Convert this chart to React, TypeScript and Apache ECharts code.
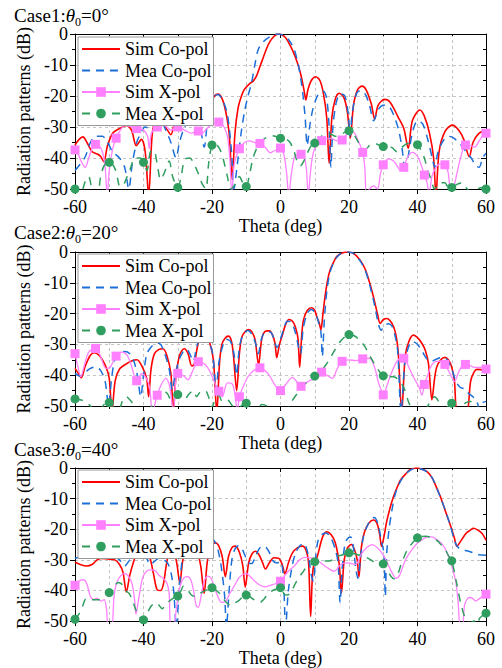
import React, { useEffect, useRef } from "react";
import * as echarts from "echarts";

type P = [number, number];

const seriesNames = ["Sim Co-pol", "Mea Co-pol", "Sim X-pol", "Mea X-pol"];
const thetaLabels = [-60, -40, -20, 0, 20, 40, 60];
const caseLabels = ["Case1:", "Case2:", "Case3:"];
const caseAngles = ["0°", "20°", "40°"];
const simXMarkerStep = [6, 6, 60];
const meaXMarkerStep = [10, 10, 10];

// ---------- Case 1 ----------
const case1SimCo: P[] = [[-60,-35.8],[-58.8,-34],[-57.7,-33.2],[-56.5,-35],[-55,-38],[-53.5,-38.7],[-52.5,-39.5],[-51.6,-41.2],[-50.5,-36],[-49,-32],[-47,-30.5],[-45,-29.5],[-43.5,-31],[-42.1,-36],[-40.6,-34],[-39.5,-38],[-38.5,-52],[-37.5,-33],[-36.6,-28.3],[-35,-28.8],[-34,-29.5],[-33,-31],[-32,-32.5],[-31,-29],[-29.5,-25.5],[-27.5,-24.5],[-25.5,-25],[-23.5,-26],[-21.6,-27.2],[-20.5,-23],[-19.3,-20],[-18.2,-19.4],[-17,-21],[-16,-25],[-15,-32],[-14.1,-47],[-13.3,-32],[-12.4,-24],[-11.4,-20],[-10.5,-17.8],[-9,-16],[-8,-15.2],[-7,-13.5],[-6,-10.5],[-5,-7.5],[-4,-4.5],[-3,-2.3],[-2,-0.9],[-1,-0.1],[-0.3,0],[1,-0.7],[2,-2],[3,-4.1],[4,-6.5],[5,-9.5],[5.8,-12.5],[6.5,-16],[7,-19],[7.4,-21.3],[8,-18],[9,-15],[10.3,-13.8],[11.5,-15],[12.5,-19],[13.5,-27],[14.2,-41.7],[15,-27],[16,-21],[17.1,-19.1],[18.5,-20.5],[19.5,-25],[20.4,-33.6],[21.3,-23],[22.5,-18],[23.8,-16.8],[25,-18],[26.5,-22.5],[27.5,-27.5],[28.5,-23],[30.4,-21.1],[32,-22],[34.3,-26.7],[36,-30.5],[37.3,-36.9],[38.5,-28],[40.7,-24.5],[42,-26.5],[43.5,-32],[44.7,-40],[45.4,-52],[46.3,-38],[48,-31.5],[50.2,-29.4],[52,-31],[53.5,-34],[55.1,-39.6],[56.2,-35],[57.8,-32.2],[60,-31]];
const case1MeaCo: P[] = [[-60,-44],[-58.5,-42],[-57,-39.6],[-55.5,-35],[-54,-33],[-52,-33],[-50.5,-35],[-49,-38],[-47,-40],[-45.5,-43],[-44.3,-50],[-43.3,-42],[-42,-35],[-41,-32.5],[-39.5,-30],[-38,-30.5],[-36.5,-30],[-35,-28],[-33.5,-31],[-32,-35],[-30.5,-40],[-29.5,-35],[-28,-30],[-26.5,-28],[-25,-27],[-23.5,-30],[-22.3,-36.5],[-21,-25],[-19.5,-20.5],[-18.3,-19.5],[-17,-21],[-15.5,-26],[-14.3,-38],[-13.6,-50],[-12.6,-42],[-11.5,-32],[-10.5,-25],[-9.5,-20],[-8.5,-16],[-7.5,-10],[-6.5,-5],[-5,-2.5],[-3,-0.8],[-1,0],[1,-0.5],[2.5,-2],[4,-5],[5.2,-10],[6,-15],[6.6,-20],[7.2,-27],[7.8,-36],[8.5,-30],[9.5,-24],[11,-19.5],[12.5,-18.5],[13.5,-21],[14.2,-30],[14.7,-43],[15.3,-30],[16.3,-22],[17.5,-19.3],[18.8,-20],[19.8,-26],[20.3,-33],[21,-25],[22.3,-19],[23.5,-18.2],[24.8,-19.5],[26,-23],[27.2,-28],[28.5,-24.5],[30,-23],[31.5,-23.2],[33,-26],[34.5,-31],[35.5,-37],[36.5,-45],[37.5,-38],[38.7,-31],[40,-28],[41.5,-29],[43,-34],[44.3,-40],[45,-43],[46,-38],[47.5,-34.5],[49,-33],[50.5,-33.5],[52,-35],[53.2,-36.5],[54.5,-38.5],[55.7,-40],[57,-42.5],[58,-43],[59,-40],[60,-38.5]];
const case1SimX: P[] = [[-60,-37.4],[-59,-39],[-58,-41.5],[-57,-43],[-56,-40],[-55,-37],[-54,-35.6],[-53,-36],[-52,-38],[-51.2,-43],[-50.6,-52],[-50,-44],[-49,-37],[-48,-33.6],[-47,-31.5],[-45.5,-29.5],[-44,-29.8],[-42,-30.5],[-40,-31],[-38.8,-33],[-38.3,-37],[-37.7,-32],[-36,-30],[-34,-29.5],[-32,-31],[-30,-30],[-28,-31],[-26,-32],[-24,-31.3],[-23,-32],[-21.5,-30.5],[-20,-29],[-18,-28.4],[-16.5,-30],[-15.5,-33],[-14.8,-40],[-14.2,-52],[-13.5,-42],[-12,-37],[-10.5,-35],[-9,-34.5],[-7.5,-35],[-6,-35.3],[-4.5,-36.5],[-3,-38.3],[-1.5,-37.5],[0,-36.8],[1,-39],[1.8,-45],[2.4,-52],[3.2,-45],[4.4,-39],[6,-38.8],[7,-40],[7.6,-44],[8.1,-52],[8.8,-44],[9.8,-37.5],[12,-34.4],[14.8,-33.7],[16.5,-34.5],[18,-34.2],[19.6,-32],[21.1,-31.5],[22.6,-34.2],[24,-38.2],[24.6,-43],[25.1,-52],[26,-50],[27.2,-49],[28.3,-50],[29.2,-45],[30,-42.2],[31.5,-40.3],[33,-41],[34,-42.5],[35,-44],[36,-43],[37,-40],[38.5,-38.2],[40,-39.5],[41,-42],[42,-45.5],[42.8,-48],[43.4,-52],[44.2,-46],[45.4,-43],[46.5,-42],[48,-42.2],[49,-45],[49.7,-52],[50.5,-50],[51.5,-45],[52.8,-39],[54,-35.8],[55.5,-36],[56.7,-36.5],[58,-34.5],[59,-32.8],[60,-32]];
const case1MeaX: P[] = [[-60,-50],[-58.5,-52],[-57,-47.5],[-56,-46],[-55,-50],[-53.5,-52],[-52.5,-46],[-51.5,-42.5],[-50,-41.4],[-48.5,-43],[-47.5,-47],[-46.5,-52],[-45.5,-48],[-44,-44],[-42.5,-40],[-41,-40],[-40,-41.4],[-39,-44],[-38,-38],[-37,-37.5],[-36,-42],[-35,-47],[-34,-45],[-32.5,-41],[-31.5,-46],[-30,-49.5],[-29,-46],[-28,-40.5],[-26.5,-40],[-25,-42.5],[-24,-45],[-23,-48],[-21.8,-50],[-21,-42],[-20,-35.8],[-19,-35.5],[-17.8,-37],[-16.8,-40],[-15.5,-46],[-14.5,-50],[-13,-48],[-12,-46],[-11,-48],[-10,-49.2],[-9,-45],[-8,-40],[-7,-37],[-5.5,-34.5],[-4,-33.3],[-2.5,-32.8],[-1,-33.2],[0,-33.6],[1.5,-33.8],[2.8,-35],[4,-38],[5,-41.5],[5.8,-42.5],[6.8,-41],[8,-38],[9,-36],[10,-35.2],[11.5,-33.5],[13,-32.3],[14.5,-32.3],[16,-33],[17.5,-32.6],[19,-31.5],[20,-31.2],[21.2,-32],[22.5,-34.5],[23.8,-36.8],[25,-37],[26.5,-35.5],[28,-35.5],[29,-36],[30,-36.3],[31.2,-36.5],[32.5,-36.6],[34,-38],[35.5,-36.5],[37,-35.3],[38.5,-35.2],[40,-35.7],[41,-37.5],[42,-40],[43,-44],[44,-47],[45,-50],[46.5,-48],[48,-48],[49,-49.5],[50,-49.5],[51.5,-48.5],[53,-48],[54.5,-50],[56,-51],[57.5,-50],[59,-49.5],[60,-50]];

// ---------- Case 2 ----------
const case2SimCo: P[] = [[-60,-37.8],[-59,-39.5],[-58.2,-40.8],[-57,-37],[-55.5,-33.5],[-54.3,-32.7],[-53,-33.5],[-52,-35],[-50.9,-37.4],[-50,-41],[-49.2,-52],[-48.3,-42],[-47,-38],[-45,-36.3],[-43.3,-35.3],[-41.9,-35],[-40.5,-37],[-39.1,-41],[-38.5,-47],[-37.8,-38],[-36.8,-33],[-35.5,-31.6],[-34.4,-31.4],[-33.2,-33.5],[-32,-39.5],[-31.3,-52],[-30.5,-40],[-29.6,-34],[-28.8,-32],[-28.1,-31.4],[-27,-33],[-25.9,-37],[-25.2,-36.5],[-24.3,-31],[-23.4,-27.6],[-22,-26.8],[-20.8,-29],[-19.6,-35],[-18.6,-52],[-17.8,-36],[-17.1,-30],[-16.2,-28],[-15.2,-27.3],[-14.3,-29],[-13.7,-34],[-12.8,-45],[-12,-33],[-11.3,-27.7],[-10.3,-25.8],[-9.3,-25.2],[-8.3,-26],[-7.4,-28.6],[-6.4,-36.7],[-5.6,-29],[-5,-26.5],[-4,-25.6],[-3.2,-25.6],[-2.3,-27],[-1.6,-29.7],[-1.1,-34.3],[-0.3,-30],[0.4,-27.5],[1.5,-23.5],[2.5,-21.9],[3.5,-22.5],[4.3,-24.2],[5.1,-28],[5.6,-37.4],[6.2,-27],[6.7,-22.1],[7.8,-19],[9.1,-18.1],[10,-19],[10.6,-21],[11.3,-23],[11.8,-25.3],[12.4,-20],[13,-14.5],[13.7,-9.5],[14.5,-5.8],[15.5,-3.3],[16.4,-1.5],[18,-0.3],[19.8,0],[21.5,-0.6],[23.2,-2.6],[24.7,-5.5],[26.1,-10.2],[26.9,-13.5],[27.6,-16.7],[28.4,-20.5],[29.1,-23.2],[30,-22],[31,-21.6],[32,-22.3],[33,-24.2],[33.8,-27.5],[34.4,-33],[35.4,-52],[36.4,-34],[37.5,-29],[38.8,-27],[40,-27.8],[41.3,-29.7],[42.3,-32],[43.2,-36.2],[44.2,-48],[45,-41],[45.6,-37.4],[46.8,-35],[48,-34.2],[49,-35],[50,-37.4],[50.8,-42],[51.4,-52],[53,-56],[54.6,-52],[55.5,-42],[56.5,-39],[57.4,-38.1],[58.5,-38.2],[60,-38.7]];
const case2MeaCo: P[] = [[-60,-39.4],[-58.5,-40.3],[-57,-39],[-55.5,-37.8],[-54,-37.3],[-52.5,-38.5],[-51.2,-42],[-50.2,-50],[-49.4,-42],[-48.4,-35],[-47,-32.8],[-45.5,-32.3],[-44,-33],[-42.8,-35.5],[-41.8,-40],[-40.8,-47],[-40,-40],[-39,-33],[-37.5,-30.5],[-36,-29.5],[-35,-30],[-33.8,-33],[-32.5,-38],[-31.6,-45],[-30.8,-40],[-29.6,-35],[-28.5,-32.5],[-27.5,-31.5],[-26.5,-33],[-25.5,-35.5],[-24.5,-31],[-23.3,-27.3],[-22,-27],[-20.8,-29.5],[-19.8,-33],[-18.8,-45],[-18,-36],[-17,-31],[-15.8,-28.3],[-14.6,-29],[-13.6,-33],[-12.8,-40],[-12,-31],[-11,-27],[-9.5,-25.5],[-8.2,-27],[-7.2,-30],[-6.5,-33],[-5.5,-28],[-4.5,-26],[-3,-26],[-2,-28],[-1,-31],[-0.2,-29],[0.8,-25.5],[2,-22.5],[3.2,-22.8],[4.3,-26],[5.3,-31],[5.9,-33],[6.6,-25],[7.8,-20],[9,-18.7],[10.2,-19.8],[11,-22.5],[11.8,-26],[12.2,-34],[12.8,-22],[13.6,-12],[14.5,-6.5],[15.5,-3.5],[16.5,-1.6],[18,-0.3],[19.8,0],[21.5,-0.6],[23.2,-2.8],[24.7,-5.8],[26,-10.5],[27,-15],[27.8,-19],[28.6,-23.5],[29.4,-25.4],[30.3,-23.8],[31.5,-23.3],[32.5,-24],[33.3,-26.5],[34.2,-32],[35.2,-52],[36.3,-36],[37.4,-30.8],[38.5,-29],[40,-30],[41.5,-32.5],[42.6,-34.5],[44,-35.5],[45.5,-34.8],[47,-34.3],[48.5,-34.8],[50,-38],[51.2,-42],[52.5,-44],[53.8,-44.5],[55,-46],[56.2,-47],[57.3,-48.5],[58.2,-51],[59,-49],[60,-48.5]];
const case2SimX: P[] = [[-60,-33],[-59.2,-37],[-58.3,-40.5],[-57.3,-37],[-56,-32.5],[-54,-31.3],[-52.5,-34],[-51,-37.8],[-49.8,-37.5],[-48,-33.8],[-46.3,-32.5],[-44.8,-33.5],[-43.5,-37],[-42,-41.8],[-40.5,-39.5],[-39.2,-41],[-38.2,-44],[-37.4,-52],[-36,-46.5],[-34.8,-43],[-33.5,-41],[-32.5,-43],[-31.8,-48],[-31.3,-52],[-30.5,-41],[-30,-39.4],[-28.5,-40],[-27,-41.5],[-25.8,-39],[-24,-35.6],[-22,-36.5],[-20.5,-39],[-19,-43],[-18,-45.2],[-17,-47],[-15.5,-42.5],[-14,-43],[-13.2,-47],[-12.6,-52],[-12,-47],[-11,-44],[-9.5,-40.5],[-7.8,-38.5],[-6,-37.6],[-4.5,-38.5],[-3,-40.5],[-1.5,-43.5],[0,-45],[1.5,-43],[3.5,-40.7],[5,-42.5],[6,-43.6],[7.5,-42.5],[9,-41.5],[10.3,-41.3],[12,-39],[13.5,-40],[15.2,-41],[16.5,-38],[18,-35.5],[20,-35],[22,-35.3],[24,-34.7],[26,-34.5],[27.5,-37.5],[28.5,-42],[29.3,-44.5],[30,-46.4],[31.2,-43],[32.5,-39],[34,-35.5],[35.3,-34.5],[36,-34.5],[37.7,-38],[39,-41],[40.5,-44],[41.3,-46.5],[42,-43],[43,-40],[44,-37],[45.5,-35.5],[46.8,-35.5],[48,-36.5],[49.5,-39.5],[50.8,-42],[52,-39],[53,-37],[54,-36.5],[55.5,-37],[57,-37.5],[58.5,-37.5],[60,-38]];
const case2MeaX: P[] = [[-60,-47.7],[-58.5,-48],[-57,-48.5],[-55.5,-50],[-54,-52],[-52.5,-51],[-51,-49],[-50,-48.9],[-49,-50],[-47.5,-52],[-46,-48],[-45,-47],[-44,-48],[-42.5,-50],[-41,-52],[-40,-51],[-39,-52],[-37.5,-50],[-36,-46.5],[-34.5,-45],[-33,-46],[-32,-48],[-31,-47.5],[-30,-46.3],[-29,-47],[-28,-48],[-27,-46.5],[-25.5,-45],[-24.5,-47],[-23.5,-45.5],[-22,-45],[-21,-47],[-20,-50.5],[-19,-47.5],[-18,-46.5],[-17,-48.5],[-15.5,-48],[-14,-50],[-12.5,-51],[-11,-49.5],[-10,-49.1],[-8.5,-50.5],[-7,-52],[-5.5,-49.5],[-4,-50],[-2.5,-52],[-1,-51],[0,-51],[1.5,-52],[3,-49],[4.2,-47],[5.5,-45],[7,-43],[8.5,-41.5],[10,-40.3],[11.5,-39],[13,-37],[14.5,-34.5],[16,-31.5],[17.5,-29],[19,-27.3],[20,-26.8],[21.5,-27.2],[23,-28.5],[24.5,-30.5],[26,-33.5],[27.5,-36.5],[29,-39],[30,-40.2],[31.5,-40.5],[33,-40.5],[34.5,-41.5],[36,-44],[37.5,-49],[39,-52],[40,-53],[42,-52],[43.5,-49],[45,-47],[46.5,-49],[48,-51],[49,-50],[50,-49.1],[51,-50.5],[52.5,-51],[54,-49],[55.5,-48.5],[57,-50],[58.5,-51.5],[60,-51]];

// ---------- Case 3 ----------
const case3SimCo: P[] = [[-60,-30.8],[-58.5,-31.5],[-56.7,-32],[-55,-31.5],[-53.5,-30],[-52.3,-29.5],[-50.5,-29.7],[-48.4,-30],[-47,-31.5],[-46,-34],[-45,-40.5],[-44,-35],[-43,-31],[-42,-28],[-40.5,-26.5],[-39.5,-26.5],[-38.2,-29],[-37,-35],[-36,-39.8],[-35,-40],[-34.2,-38],[-33.3,-31.5],[-32.3,-27],[-31.3,-27],[-30.3,-31],[-29.4,-37.5],[-28.5,-30],[-27.2,-25.5],[-25.8,-24.8],[-24.5,-26.5],[-23.3,-32],[-22.3,-41],[-21.3,-30],[-20,-25.5],[-19,-24.4],[-18,-25.5],[-17,-29],[-16.1,-35.5],[-15.2,-29],[-14.2,-26],[-13.2,-25.5],[-12,-27.5],[-11,-32],[-10.3,-38.9],[-9.3,-31],[-8.3,-28],[-7.3,-27.2],[-6.2,-28.5],[-5.2,-31],[-4.4,-33],[-3.3,-31],[-1.9,-29.3],[-0.5,-29.5],[0.5,-31.5],[1.3,-34.6],[2.3,-31],[3.5,-27.7],[5,-26],[6.4,-25.5],[7.5,-27],[8.2,-31],[8.8,-48.5],[9.5,-33],[10.8,-28.7],[12.3,-22.5],[13.5,-20.8],[14.8,-21.8],[16,-24.4],[17.1,-31],[17.8,-40.8],[18.6,-30],[19.6,-26],[20.7,-25],[21.7,-27],[22.4,-30],[22.9,-35.5],[23.6,-26],[24.5,-21],[25.8,-18],[27.2,-17],[28.3,-18.5],[29,-22],[29.5,-25.6],[30.2,-22.5],[31,-17.5],[32,-13],[33,-9.3],[34,-6.5],[35,-4],[36.5,-2],[37.9,-0.5],[39.8,0],[41.3,-0.4],[42.8,-1.2],[44.3,-3.3],[45.6,-6.5],[46.8,-9.7],[48,-13.6],[49,-16.8],[50,-20],[50.8,-23],[51.5,-25.5],[52.9,-23.4],[54.2,-21.3],[55.4,-20.3],[56.3,-19.7],[57.5,-20.2],[58.8,-21.3],[60,-23.6]];
const case3MeaCo: P[] = [[-60,-29.5],[-58.5,-29],[-56.5,-28],[-54,-27.5],[-51.5,-27.5],[-49,-28.5],[-47,-30],[-45.5,-32],[-44,-30],[-42.5,-28],[-41,-27],[-39.5,-28.5],[-38,-31.5],[-36.8,-30.5],[-35.5,-29.5],[-34.2,-30],[-33,-31],[-32,-34],[-31.2,-40],[-30.4,-52],[-29.6,-40],[-28.8,-31],[-27.8,-26],[-26.5,-24],[-25,-25],[-23.8,-27],[-23,-28.5],[-22.2,-26],[-21.3,-23.5],[-20.3,-23],[-19.2,-24],[-18.2,-27],[-17.2,-33],[-16.3,-42],[-15.8,-52],[-15,-40],[-14.2,-30],[-13.3,-26.5],[-12.3,-25.4],[-11.2,-26.5],[-10.2,-29],[-9.2,-31],[-8.4,-31.2],[-7.5,-29.5],[-6.3,-26.5],[-5.2,-25.5],[-4.3,-25.8],[-3.3,-27.5],[-2.3,-30.2],[-1,-31],[0,-30.5],[0.8,-35],[1.5,-52],[2.3,-40],[3.5,-31.5],[4.5,-27.5],[5.5,-25.6],[6.8,-24.6],[7.8,-27],[8.4,-30.5],[9,-35],[9.6,-37],[10.2,-30],[10.9,-24],[12,-21.8],[13.2,-21.2],[14.5,-22.3],[16,-26.6],[16.8,-31],[17.4,-44],[18,-33],[18.8,-25],[19.6,-23],[20.5,-22.5],[21.3,-26],[22,-33],[22.6,-36],[23.3,-30],[24.2,-22.4],[25.5,-18.5],[26.5,-16.6],[27.4,-16.2],[28.5,-18.5],[29.5,-24],[30.2,-28],[30.6,-42],[31,-28],[31.7,-20],[32.5,-14],[33.5,-8.5],[34.5,-5.5],[35.8,-3],[37.5,-1],[39.8,0],[41.5,-0.5],[43,-1.5],[44.5,-3.6],[45.8,-7],[47,-10.5],[48.2,-14],[49.5,-18.5],[50.5,-22.5],[51.3,-25],[52.2,-26.3],[53.5,-26.8],[55,-27.2],[56.5,-27.8],[58,-28.3],[60,-28.5]];
const case3SimX: P[] = [[-60,-38.3],[-59,-37],[-57.5,-36.5],[-56.5,-38],[-55.5,-42],[-54.5,-43],[-53.5,-42.5],[-52.5,-43.5],[-51.5,-43],[-50.8,-46],[-50.3,-52],[-49.3,-52],[-48.6,-42],[-47.8,-37.4],[-46.5,-35],[-45.4,-34.5],[-44.3,-35.5],[-43.3,-38],[-42.6,-43],[-42.2,-47.7],[-41.3,-42],[-40.3,-36],[-39.2,-33.8],[-38,-33.3],[-36.6,-33.5],[-35.5,-35],[-34.3,-36],[-33.2,-37.5],[-32.5,-41],[-32.1,-52],[-31.3,-52],[-30.3,-45],[-29.4,-39],[-28.3,-36],[-27.2,-35.5],[-26.2,-36.5],[-25.4,-40],[-24.6,-45],[-24,-45.5],[-23.2,-42],[-22.3,-37],[-21.3,-35.3],[-20.3,-36],[-19.3,-39],[-18.3,-42],[-17.2,-43.9],[-16,-43.5],[-14.8,-41],[-13.5,-38.5],[-12.2,-36],[-11,-34.8],[-9.9,-34.5],[-8.8,-35.5],[-7.5,-37],[-6,-38.3],[-4.5,-38.8],[-3,-38.3],[-1.5,-37.8],[0,-37],[1.1,-35.3],[2.5,-33.5],[4,-32],[5.9,-29.7],[7.5,-29.2],[8.9,-29.4],[10.3,-29.8],[11.8,-31],[13.7,-32.6],[15.7,-33.7],[17.6,-31.5],[19.6,-31],[21,-31.3],[22,-31.5],[23.5,-28.3],[25.2,-26],[26.9,-25],[28.2,-26],[29.3,-27.3],[30.3,-29],[31.2,-31],[32.5,-34],[33.7,-36],[34.5,-35.5],[35.1,-34.2],[36.1,-31],[37.1,-28.8],[38.5,-26.5],[40,-24.5],[41.5,-23.3],[42.9,-22.5],[44.2,-22.5],[45.5,-23.3],[47.3,-25],[48.6,-27.5],[49.7,-31],[50.5,-34],[51.2,-37.4],[51.8,-43],[52.5,-52],[53.1,-52],[53.7,-45],[54.3,-43.2],[55.1,-42.3],[56,-42.5],[57,-43.4],[58.3,-42.5],[59.5,-41.5],[60,-41.2]];
const case3MeaX: P[] = [[-60,-49.4],[-59,-48],[-58,-45.8],[-56.6,-42.5],[-55,-43],[-53,-43],[-51.5,-42],[-50,-40.7],[-48.5,-38.5],[-47.4,-37.4],[-46.3,-38],[-45.2,-40],[-44.2,-41],[-43.5,-42.5],[-42.5,-45.5],[-41.6,-48],[-40,-49.6],[-39,-47.5],[-37.7,-45],[-36.5,-44],[-35.7,-44.5],[-34.5,-46],[-33.8,-45],[-32.5,-43.5],[-31.3,-42.5],[-30,-41.8],[-29,-40],[-28.4,-38.6],[-27.3,-39.5],[-26,-41.5],[-25,-42],[-24,-41.5],[-23.1,-40.7],[-21.5,-39.8],[-20,-39.1],[-18.2,-40.5],[-17,-42],[-16.2,-43.4],[-15.2,-44.5],[-14.3,-45],[-13.2,-44],[-12.3,-43.4],[-11,-42],[-10,-41.5],[-9,-42],[-8,-42.8],[-7,-43.5],[-6,-43.9],[-5,-43],[-4.1,-41.8],[-2.6,-40.2],[-1.2,-39.5],[0,-39.1],[1.1,-41.2],[2,-41.5],[3,-40.7],[4,-38.5],[5,-36.4],[6.4,-34.2],[7.9,-32],[9,-31.5],[10,-30.6],[11.8,-30.4],[14.2,-30.4],[16.6,-28.8],[18.3,-28.3],[20,-27.7],[22.5,-28.3],[24.4,-28.8],[26.9,-30.4],[28.5,-31.5],[30,-31.3],[31,-32.5],[32.2,-35.3],[33.2,-36.2],[34.2,-34.8],[35.1,-31.8],[36.1,-29],[37.1,-26.6],[38.5,-24.5],[40,-22.8],[41.2,-22.4],[42.4,-22.3],[43.6,-22.5],[44.9,-22.9],[46.4,-24.5],[47.8,-26.1],[49,-28.5],[50,-30.3],[51.2,-36.4],[52.6,-44],[54.1,-49.5],[55.3,-50.5],[56.5,-50],[57.3,-51],[58.2,-49],[59,-48.2],[60,-47.4]];

const simCoData = [case1SimCo, case2SimCo, case3SimCo];
const meaCoData = [case1MeaCo, case2MeaCo, case3MeaCo];
const simXData = [case1SimX, case2SimX, case3SimX];
const meaXData = [case1MeaX, case2MeaX, case3MeaX];

const FONT = "'Liberation Serif', 'Times New Roman', serif";
const GRID_TOPS = [34, 252, 468];
const GRID_HEIGHTS = [155, 154, 154];
const LEGEND_TOPS = [37, 254, 470];
const TITLE_TOPS = [6, 223, 440];

const RED = "#ff0000";
const BLUE = "#1d6fd8";
const PINK = "#ff80ff";
const GREEN = "#2f9e5f";

const isMultiple = (x: number, step: number) => Math.abs(x / step - Math.round(x / step)) < 1e-6;

function markerData(arr: P[], step: number) {
  return arr.map(([x, y]) => (isMultiple(x, step) ? { value: [x, y] } : { value: [x, y], symbol: "none" }));
}

function buildOption(): any {
  const grid: any[] = [];
  const xAxis: any[] = [];
  const yAxis: any[] = [];
  const series: any[] = [];
  const legend: any[] = [];
  const graphic: any[] = [];
  const axisLineStyle = { color: "#000", width: 1 };
  const labelStyle = { fontSize: 18, fontFamily: FONT, color: "#000" };
  const splitStyle = { color: "#c4c4c4", width: 1, type: [3, 3] };

  const legendData = seriesNames.map((n, k) =>
    k < 2 ? { name: n, itemStyle: { opacity: 0 } } : { name: n }
  );

  for (let i = 0; i < 3; i++) {
    grid.push({ left: 75, width: 411, top: GRID_TOPS[i], height: GRID_HEIGHTS[i], containLabel: false });
    xAxis.push({
      type: "value", gridIndex: i, min: -60, max: 60, interval: 20, position: "bottom",
      axisLine: { show: true, onZero: false, lineStyle: axisLineStyle },
      axisTick: { show: true, inside: false, length: 5, lineStyle: axisLineStyle },
      minorTick: { show: true, splitNumber: 2, length: 3, lineStyle: axisLineStyle },
      minorSplitLine: { show: true, lineStyle: splitStyle },
      splitLine: { show: true, lineStyle: splitStyle },
      axisLabel: { ...labelStyle, margin: 9, formatter: (v: number) => (thetaLabels.indexOf(v) >= 0 ? String(v) : "") },
      name: "Theta (deg)", nameLocation: "middle", nameGap: 25,
      nameTextStyle: { ...labelStyle },
    });
    xAxis.push({
      type: "value", gridIndex: i, min: -60, max: 60, interval: 20, position: "top",
      axisLine: { show: true, onZero: false, lineStyle: axisLineStyle },
      axisTick: { show: true, inside: true, length: 4, lineStyle: axisLineStyle },
      minorTick: { show: true, splitNumber: 2, length: 2, lineStyle: axisLineStyle },
      splitLine: { show: false }, axisLabel: { show: false },
    });
    yAxis.push({
      type: "value", gridIndex: i, min: -50, max: 0, interval: 10, position: "left",
      axisLine: { show: true, onZero: false, lineStyle: axisLineStyle },
      axisTick: { show: true, inside: false, length: 5, lineStyle: axisLineStyle },
      minorTick: { show: true, splitNumber: 2, length: 3, lineStyle: axisLineStyle },
      splitLine: { show: true, lineStyle: splitStyle },
      axisLabel: { ...labelStyle, margin: 7 },
      name: "Radiation patterns (dB)", nameLocation: "middle", nameGap: 33,
      nameTextStyle: { ...labelStyle },
    });
    yAxis.push({
      type: "value", gridIndex: i, min: -50, max: 0, interval: 10, position: "right",
      axisLine: { show: true, onZero: false, lineStyle: axisLineStyle },
      axisTick: { show: true, inside: true, length: 5, lineStyle: axisLineStyle },
      minorTick: { show: true, splitNumber: 2, length: 3, lineStyle: axisLineStyle },
      splitLine: { show: false }, axisLabel: { show: false },
    });

    const ax = { xAxisIndex: 2 * i, yAxisIndex: 2 * i };
    series.push({
      type: "line", name: seriesNames[0], ...ax, data: simCoData[i], symbol: "none", showSymbol: false,
      smooth: 0.3, clip: true, lineStyle: { color: RED, width: 1.6 }, itemStyle: { color: RED },
    });
    series.push({
      type: "line", name: seriesNames[1], ...ax, data: meaCoData[i], symbol: "none", showSymbol: false,
      smooth: 0.3, clip: true, lineStyle: { color: BLUE, width: 1.5, type: [8, 6] }, itemStyle: { color: BLUE },
    });
    series.push({
      type: "line", name: seriesNames[2], ...ax, data: markerData(simXData[i], simXMarkerStep[i]),
      symbol: "rect", symbolSize: 9, showSymbol: true, showAllSymbol: true,
      smooth: 0.3, clip: true, lineStyle: { color: PINK, width: 1.3 }, itemStyle: { color: PINK },
    });
    series.push({
      type: "line", name: seriesNames[3], ...ax, data: markerData(meaXData[i], meaXMarkerStep[i]),
      symbol: "circle", symbolSize: 9, showSymbol: true, showAllSymbol: true,
      smooth: 0.3, clip: true, lineStyle: { color: GREEN, width: 1.5, type: [8, 7] }, itemStyle: { color: GREEN },
    });

    legend.push({
      orient: "vertical", left: 78, top: LEGEND_TOPS[i], data: legendData,
      itemWidth: 38, itemHeight: 12, itemGap: 3.5, padding: [3, 2, 3, 3],
      borderColor: "#999", borderWidth: 1, backgroundColor: "#fff",
      textStyle: { fontSize: 18, fontFamily: FONT, color: "#000" }, selectedMode: false,
    });

    graphic.push({
      type: "text", left: 14, top: TITLE_TOPS[i],
      style: {
        text: `{n|${caseLabels[i]}}{t|θ}{s|0}{n|=${caseAngles[i]}}`,
        rich: {
          n: { fontSize: 19, fontFamily: FONT, lineHeight: 24, fill: "#000" },
          t: { fontSize: 19, fontFamily: FONT, fontStyle: "italic", lineHeight: 24, fill: "#000" },
          s: { fontSize: 12, fontFamily: FONT, lineHeight: 12, verticalAlign: "bottom", fill: "#000" },
        },
      },
    });
  }

  return {
    animation: false,
    backgroundColor: "#fff",
    textStyle: { fontFamily: FONT },
    grid, xAxis, yAxis, series, legend, graphic,
  };
}

export default function App() {
  const ref = useRef<HTMLDivElement>(null);
  useEffect(() => {
    if (!ref.current) return;
    const chart = echarts.init(ref.current, undefined, { renderer: "svg" });
    chart.setOption(buildOption());
    return () => chart.dispose();
  }, []);
  return <div ref={ref} style={{ position: "absolute", left: 0, top: 0, width: 502, height: 668 }} />;
}
